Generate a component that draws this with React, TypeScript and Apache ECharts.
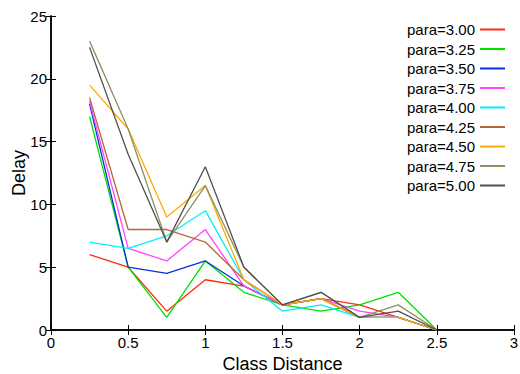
import React, { useEffect, useRef } from "react";
import * as echarts from "echarts";

const distances = [0.25, 0.5, 0.75, 1.0, 1.25, 1.5, 1.75, 2.0, 2.25, 2.5];
const seriesNames = ["para=3.00", "para=3.25", "para=3.50", "para=3.75", "para=4.00", "para=4.25", "para=4.50", "para=4.75", "para=5.00"];
const seriesColors = ["#ff2a10", "#00e000", "#0a2fe0", "#ff44ff", "#00eeff", "#b8653a", "#ffaa00", "#8f8f60", "#505050"];
const p300 = [6, 5, 1.5, 4, 3.5, 2, 2.5, 2, 1, 0];
const p325 = [17, 5, 1, 5.5, 3, 2, 1.5, 2, 3, 0];
const p350 = [18, 5, 4.5, 5.5, 3.5, 2, 2.5, 1, 1, 0];
const p375 = [18.2, 6.5, 5.5, 8, 3.5, 2, 2.5, 1.5, 1, 0];
const p400 = [7, 6.5, 7.5, 9.5, 4, 1.5, 2, 1, 1, 0];
const p425 = [18.5, 8, 8, 7, 4, 2, 2.5, 1, 1, 0];
const p450 = [19.5, 16, 9, 11.5, 4, 2, 2.5, 1, 1, 0];
const p475 = [23, 16, 7, 11.5, 5, 2, 3, 1, 2, 0];
const p500 = [22.5, 14, 7, 13, 5, 2, 3, 1, 1.5, 0];
const allValues = [p300, p325, p350, p375, p400, p425, p450, p475, p500];

export default function App() {
  const ref = useRef<HTMLDivElement>(null);
  useEffect(() => {
    if (!ref.current) return;
    const chart = echarts.init(ref.current, null, { renderer: "svg" });
    const font = "Arial, 'Liberation Sans', sans-serif";
    const axisCommon = {
      type: "value" as const,
      axisLine: { show: true, lineStyle: { color: "#000", width: 1.5 } },
      axisTick: { show: true, inside: true, length: 5, lineStyle: { color: "#000", width: 1 } },
      splitLine: { show: false },
    };
    chart.setOption({
      animation: false,
      backgroundColor: "#fff",
      grid: { left: 51, right: 6, top: 16, bottom: 44, containLabel: false, outerBoundsMode: "none" },
      xAxis: [
        {
          ...axisCommon,
          position: "bottom",
          min: 0,
          max: 3,
          interval: 0.5,
          name: "Class Distance",
          nameLocation: "middle",
          nameGap: 24,
          nameTextStyle: { fontFamily: font, fontSize: 18, color: "#000" },
          axisLabel: { fontFamily: font, fontSize: 15, color: "#000", margin: 5 },
        },
        {
          ...axisCommon,
          position: "top",
          min: 0,
          max: 3,
          interval: 0.5,
          axisLabel: { show: false },
        },
      ],
      yAxis: [
        {
          ...axisCommon,
          position: "left",
          min: 0,
          max: 25,
          interval: 5,
          name: "Delay",
          nameLocation: "middle",
          nameGap: 23,
          nameMoveOverlap: false,
          nameRotate: 90,
          nameTextStyle: { fontFamily: font, fontSize: 18, color: "#000" },
          axisLabel: { fontFamily: font, fontSize: 15, color: "#000", margin: 4 },
        },
        {
          ...axisCommon,
          position: "right",
          min: 0,
          max: 25,
          interval: 5,
          axisLabel: { show: false },
        },
      ],
      legend: {
        orient: "vertical",
        right: 10,
        top: 17,
        padding: 5,
        align: "right",
        itemWidth: 25,
        itemHeight: 2,
        itemGap: 4.5,
        icon: "rect",
        textStyle: { fontFamily: font, fontSize: 15, color: "#000", lineHeight: 15 },
        data: seriesNames,
      },
      series: seriesNames.map((name, i) => ({
        name,
        type: "line",
        xAxisIndex: 0,
        yAxisIndex: 0,
        symbol: "none",
        color: seriesColors[i],
        lineStyle: { width: 1.3, color: seriesColors[i] },
        data: distances.map((d, j) => [d, allValues[i][j]]),
      })),
    });
    return () => chart.dispose();
  }, []);
  return <div ref={ref} style={{ position: "fixed", left: 0, top: 0, width: 520, height: 374 }} />;
}
